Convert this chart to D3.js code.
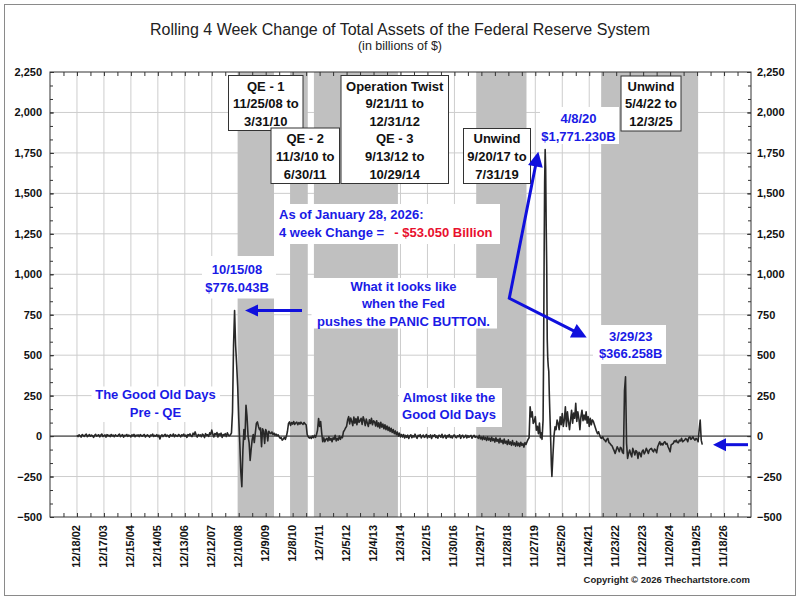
<!DOCTYPE html>
<html><head><meta charset="utf-8">
<script src="https://cdn.jsdelivr.net/npm/d3@7"></script>
<style>
html,body{margin:0;padding:0;background:#fff;}
svg{display:block;font-family:"Liberation Sans",Arial,Helvetica,sans-serif;}
</style></head><body>
<svg id="chart" width="800" height="600"></svg>
<script>
// ================= DATA =================
const xTickLabels = ["12/18/02","12/17/03","12/15/04","12/14/05","12/13/06","12/12/07","12/10/08","12/9/09",
  "12/8/10","12/7/11","12/5/12","12/4/13","12/3/14","12/2/15","11/30/16","11/29/17","11/28/18","11/27/19",
  "11/25/20","11/24/21","11/23/22","11/22/23","11/20/24","11/19/25","11/18/26"];
const yTickValues = [-500,-250,0,250,500,750,1000,1250,1500,1750,2000,2250];

const shadeNames  = ["QE - 1","QE - 2","Operation Twist / QE - 3","Unwind","Unwind"];
const shadeStarts = ["11/25/08","11/3/10","9/21/11","9/20/17","5/4/22"];
const shadeEnds   = ["3/31/10","6/30/11","10/29/14","7/31/19","12/3/25"];

// Rolling 4-week change (billions $). Each segment: start date, step in days.
const segPreQEStart = "12/18/02"; // every 2 weeks
const segPreQE = [5,-3,8,2,-6,10,4,-2,7,12,-4,3,9,-1,6,2,-8,5,11,0,
  4,8,-5,6,13,-2,3,7,-6,9,2,5,-3,10,1,6,-4,8,3,-1,
  7,12,-3,4,9,-6,5,2,10,-2,6,3,-5,8,1,11,-4,6,2,7,
  -3,9,4,-1,6,10,-5,3,8,1,-6,7,4,12,-2,5,0,9,-4,6,
  -18,2,8,-3,5,11,-2,6,3,-7,9,4,1,13,-4,7,2,-2,10,5,
  -5,8,3,12,-1,6,-8,9,4,14,2,-3,18,8,26,5,-6,10,3,7,
  -4,12,6,-9,15,4,8,-2,20,10,37,12,-5,16,8,22,-6,14,5,18,
  -8,10,4,15,-3,20,6,2,8];
const segCrisisStart = "9/3/08"; // every 2 weeks
const segCrisis = [20,150,560,776.043,560,440,305,110,-40,-220,-313,-90,40,-20,191,120,0,-40,-150,-80,
  -20,10,-40,20,78,88,60,40,50,-66,45,30,-45,40,25,-30,30,20,15,25,
  10,18,5,12,2,8,-5,-14,-10,-25,-18,-8,-20,0,30,78,88,66,84,74,
  90,72,82,86,70,84,74,86,78,72,84,75,70,10,-4,-12,-6,-15,0,-10,
  5,-8,10,37,109,60,90,20];
const segTwistQE3Start = "1/18/12"; // every 2 weeks
const segTwistQE3 = [-35,-10,-35,-20,-14,-30,-5,-25,-14,-35,-10,-20,5,-30,-14,-25,0,-20,-5,-10,
  27,37,50,60,
  99,120,75,112,90,65,118,80,108,70,119,85,95,110,72,119,98,65,105,80,60,100,78,110,70,95,
  88,62,95,58,82,50,85,55,75,45,70,40,62,35,55,28,48,22,40,15,32,8,25,0,18,-5,10];
const segCalmStart = "12/31/14"; // every 2 weeks
const segCalm = [-5,10,-12,4,-8,6,-15,2,8,-10,3,-6,12,-4,-14,5,-2,9,-11,0,
  6,-8,-3,10,-12,2,-6,7,-15,4,-2,8,-9,1,-13,5,3,-7,11,-10,
  -2,6,-14,3,-5,9,-8,0,-12,4,7,-6,-10,2,-3,8,-14,1,5,-9,
  -4,6,-11,3,-7,0,4,-13,-2,5,-8,-3];
const segUnwindStart = "10/4/17"; // every 2 weeks
const segUnwind = [-5,-14,4,-17,-6,-22,-2,-20,-9,-27,-5,-24,-12,-32,-8,-28,-16,-37,-10,-32,
  -20,-42,-13,-38,-26,-47,-18,-44,-31,-52,-23,-50,-36,-57,-28,-54,-42,-62,-33,-60,
  -43,-64,-38,-57,-46,-68,-40,-52,-35];
const segRepoStart = "8/21/19"; // every 2 weeks
const segRepo = [-20,-10,181,119,150,78,90,120,37,60,15,80,-10,20];
const segCovidStart = "2/26/20"; // weekly
const segCovid = [-20,40,100,500,1090,1570,1771.23,1650,1300,1050,600,480,430,400,260,150,50,-60,-180];
const segPostStart = "7/8/20"; // every 2 weeks
const segPost = [-250,-120,0,57,40,99,80,40,119,70,140,60,100,181,60,150,90,40,100,160,
  80,142,110,202,90,150,110,40,120,160,95,130,100,150,80,120,60,110,70,100,
  90,70,50,30,15,27,6,-10,-14,-4,-20,-25,-35,-20,-14,-40,-45,-55,-60,-76,
  -90,-107,-86,-66,-80,-97,-70,-76,-100,-107,280,366.258,-45,-138,-107,-86,-110,-128,-76,-95,
  -117,-90,-97,-138,-100,-107,-128,-95,-86,-110,-97,-76,-90,-107,-86,-80,-76,-90,-97,-80,
  -86,-103,-66,-50,-35,-55,-45,-55,-40,-35,-50,-45,-66,-80,-97,-55,-50,-45,-30,-35,
  -25,-40,-41,-25,-30,-14,-35,-30,-25,-15,-20,-35,-10,-4,-20,-14,-4,-18,-25,-14,
  -20,-35,37,99,-25,-53.05];

// ================= BUILD =================
const parse = d3.utcParse("%m/%d/%y");
const segments = [
  [segPreQEStart, 14, segPreQE], [segCrisisStart, 14, segCrisis], [segTwistQE3Start, 14, segTwistQE3],
  [segCalmStart, 14, segCalm], [segUnwindStart, 14, segUnwind], [segRepoStart, 14, segRepo],
  [segCovidStart, 7, segCovid], [segPostStart, 14, segPost]
];
let series = [];
segments.forEach(([s, step, vals]) => {
  const d0 = parse(s);
  vals.forEach((v, k) => series.push({date: d3.utcDay.offset(d0, k * step), value: v}));
});
series.sort((a, b) => a.date - b.date);

const M = {left: 50, right: 751, top: 72, bottom: 517};
const x = d3.scaleUtc().domain([parse("12/19/01"), parse("11/17/27")]).range([M.left, M.right]);
const y = d3.scaleLinear().domain([-500, 2250]).range([M.bottom, M.top]);

const majors = xTickLabels.map(parse);
const minors = [d3.utcDay.offset(majors[0], -182)].concat(majors.map(d => d3.utcDay.offset(d, 182)));
const minorY = d3.range(-500, 2250.001, 250 / 3);

const svg = d3.select("#chart");
svg.append("rect").attr("width", 800).attr("height", 600).attr("fill", "#fff");
svg.append("rect").attr("x", 4.5).attr("y", 4.5).attr("width", 791).attr("height", 591)
  .attr("fill", "none").attr("stroke", "#8a8a8a");

// gridlines
const grid = svg.append("g").attr("stroke", "#cdcdcd").attr("stroke-width", 1);
grid.selectAll("line.v").data(majors).join("line").attr("class", "v")
  .attr("x1", d => x(d)).attr("x2", d => x(d)).attr("y1", M.top).attr("y2", M.bottom);
grid.selectAll("line.h").data(yTickValues.filter(v => v > -500 && v < 2250)).join("line").attr("class", "h")
  .attr("x1", M.left).attr("x2", M.right).attr("y1", d => y(d)).attr("y2", d => y(d));

// shaded periods
svg.append("g").selectAll("rect").data(shadeNames.map((n, i) => ({n, s: parse(shadeStarts[i]), e: parse(shadeEnds[i])})))
  .join("rect").attr("x", d => x(d.s)).attr("width", d => x(d.e) - x(d.s))
  .attr("y", M.top).attr("height", M.bottom - M.top).attr("fill", "#c0c0c0");

// zero line
svg.append("line").attr("x1", M.left).attr("x2", M.right).attr("y1", y(0)).attr("y2", y(0))
  .attr("stroke", "#222").attr("stroke-width", 1);

// series
const line = d3.line().x(d => x(d.date)).y(d => y(d.value));
svg.append("path").datum(series).attr("d", line).attr("fill", "none")
  .attr("stroke", "#282828").attr("stroke-width", 1.6).attr("stroke-linejoin", "round");

// plot border
svg.append("rect").attr("x", M.left).attr("y", M.top).attr("width", M.right - M.left).attr("height", M.bottom - M.top)
  .attr("fill", "none").attr("stroke", "#333");

// axes
const noDomain = g => g.select(".domain").remove();
const styleTicks = g => g.selectAll(".tick line").attr("stroke", "#333");
svg.append("g").attr("transform", `translate(0,${M.bottom})`)
  .call(d3.axisBottom(x).tickValues(minors).tickSize(-4).tickSizeOuter(0).tickFormat(""))
  .call(noDomain).call(styleTicks);
svg.append("g").attr("transform", `translate(0,${M.top})`)
  .call(d3.axisTop(x).tickValues(majors.concat(minors)).tickSize(-4).tickSizeOuter(0).tickFormat(""))
  .call(noDomain).call(styleTicks);
const xb = svg.append("g").attr("transform", `translate(0,${M.bottom})`)
  .call(d3.axisBottom(x).tickValues(majors).tickSize(-4).tickSizeOuter(0).tickFormat((d, i) => xTickLabels[i]))
  .call(noDomain).call(styleTicks);
xb.selectAll("text").attr("transform", "rotate(-90)").attr("x", -8).attr("y", 2.5).attr("dy", null)
  .style("text-anchor", "end").attr("fill", "#111").attr("font-size", 11).attr("font-weight", "bold")
  .attr("font-family", "Liberation Sans, Arial, sans-serif");

const yl = svg.append("g").attr("transform", `translate(${M.left},0)`)
  .call(d3.axisLeft(y).tickValues(yTickValues).tickSize(-4).tickPadding(8).tickSizeOuter(0).tickFormat(d3.format(",")))
  .call(noDomain).call(styleTicks);
svg.append("g").attr("transform", `translate(${M.left},0)`)
  .call(d3.axisLeft(y).tickValues(minorY).tickSize(-3).tickSizeOuter(0).tickFormat(""))
  .call(noDomain).call(styleTicks);
const yr = svg.append("g").attr("transform", `translate(${M.right},0)`)
  .call(d3.axisRight(y).tickValues(yTickValues).tickSize(-4).tickPadding(6).tickSizeOuter(0).tickFormat(d3.format(",")))
  .call(noDomain).call(styleTicks);
svg.append("g").attr("transform", `translate(${M.right},0)`)
  .call(d3.axisRight(y).tickValues(minorY).tickSize(-3).tickSizeOuter(0).tickFormat(""))
  .call(noDomain).call(styleTicks);
[yl, yr].forEach(g => g.selectAll("text").attr("fill", "#111").attr("font-size", 11).attr("font-weight", "bold")
  .attr("font-family", "Liberation Sans, Arial, sans-serif"));

// titles
svg.append("text").attr("x", 400).attr("y", 35).attr("text-anchor", "middle").attr("font-size", 16)
  .attr("fill", "#222").text("Rolling 4 Week Change of Total Assets of the Federal Reserve System");
svg.append("text").attr("x", 400).attr("y", 50).attr("text-anchor", "middle").attr("font-size", 12.5)
  .attr("fill", "#222").text("(in billions of $)");
svg.append("text").attr("x", 750).attr("y", 583).attr("text-anchor", "end").attr("font-size", 9.5)
  .attr("font-weight", "bold").attr("fill", "#222").text("Copyright \u00A9 2026 Thechartstore.com");

// ================= ANNOTATIONS =================
const BLUE = "#1a1ae6", RED = "#e8102e", ARROW = "#1010dd";
const notes = [
  {b:[202,256,276,298.5], lines:["10/15/08","$776.043B"], cx:237, base:274, sp:18, c:BLUE},
  {b:[311.5,278,497,328.5], lines:["What it looks like","when the Fed","pushes the PANIC BUTTON."], cx:403.5, base:290.7, sp:17.6, c:BLUE},
  {b:[91.5,386.5,220,422], lines:["The Good Old Days","Pre - QE"], cx:155.5, base:398.5, sp:18, c:BLUE},
  {b:[399,388,502,427], lines:["Almost like the","Good Old Days"], cx:449, base:401.7, sp:17.6, c:BLUE},
  {b:[540,107,619,144], lines:["4/8/20","$1,771.230B"], cx:578.5, base:123.3, sp:17.3, c:BLUE},
  {b:[593,325,666,364], lines:["3/29/23","$366.258B"], cx:630.7, base:340.7, sp:16.8, c:BLUE},
  {b:[228.5,75.5,303,130.5], lines:["QE - 1","11/25/08 to","3/31/10"], cx:265.8, base:90.5, sp:17.6, c:"#111", border:true},
  {b:[271,128,339.5,183.5], lines:["QE - 2","11/3/10 to","6/30/11"], cx:305.2, base:143.3, sp:17.6, c:"#111", border:true},
  {b:[341,75.5,448.5,183.5], lines:["Operation Twist","9/21/11 to","12/31/12","QE - 3","9/13/12 to","10/29/14"], cx:394.7, base:90.5, sp:17.6, c:"#111", border:true},
  {b:[463.5,128.5,530.5,183.5], lines:["Unwind","9/20/17 to","7/31/19"], cx:497, base:143.3, sp:17.6, c:"#111", border:true},
  {b:[621,76,681,131], lines:["Unwind","5/4/22 to","12/3/25"], cx:651, base:90.5, sp:17.6, c:"#111", border:true}
];
const ann = svg.append("g");
notes.forEach(n => {
  ann.append("rect").attr("x", n.b[0]).attr("y", n.b[1]).attr("width", n.b[2] - n.b[0]).attr("height", n.b[3] - n.b[1])
    .attr("fill", "#fff").attr("stroke", n.border ? "#333" : "none");
  const t = ann.append("text").attr("text-anchor", "middle").attr("font-size", 13).attr("font-weight", "bold").attr("fill", n.c);
  n.lines.forEach((l, i) => t.append("tspan").attr("x", n.cx).attr("y", n.base + i * n.sp).text(l));
});
// "As of" block
ann.append("rect").attr("x", 274).attr("y", 204).attr("width", 226).attr("height", 40).attr("fill", "#fff");
ann.append("text").attr("x", 279).attr("y", 219.3).attr("font-size", 13).attr("font-weight", "bold").attr("fill", BLUE)
  .text("As of January 28, 2026:");
const t2 = ann.append("text").attr("x", 279).attr("y", 236.7).attr("font-size", 13).attr("font-weight", "bold");
t2.append("tspan").attr("fill", BLUE).text("4 week Change =");
t2.append("tspan").attr("x", 394.3).attr("fill", RED).text("- $53.050 Billion");

// arrows
function head(tx, ty, fx, fy, len, hw) {
  const dx = tx - fx, dy = ty - fy, L = Math.hypot(dx, dy), ux = dx / L, uy = dy / L;
  const bx = tx - ux * len, by = ty - uy * len;
  ann.append("polygon").attr("points", [[tx, ty], [bx - uy * hw, by + ux * hw], [bx + uy * hw, by - ux * hw]].map(p => p.join(",")).join(" "))
    .attr("fill", ARROW);
  return [bx + ux * 1, by + uy * 1];
}
function arrowLine(pts) {
  ann.append("path").attr("d", d3.line()(pts)).attr("fill", "none").attr("stroke", ARROW)
    .attr("stroke-width", 3).attr("stroke-linejoin", "miter");
}
// 2008 peak arrow
{
  const yy = y(776.043);
  const b = head(245, yy, 302, yy, 13, 6);
  arrowLine([[302, yy], b]);
}
// current value arrow
{
  const yy = y(-53.05);
  const b = head(713, yy, 748, yy, 13, 6.5);
  arrowLine([[748, yy], b]);
}
// 2020 / 2023 arrow
{
  const elbow = [509.3, 298.3];
  const b1 = head(538.3, 151.7, elbow[0], elbow[1], 15, 7.5);
  const b2 = head(586.7, 337.5, elbow[0], elbow[1], 15, 7.5);
  arrowLine([b1, elbow, b2]);
}
</script>
</body></html>
